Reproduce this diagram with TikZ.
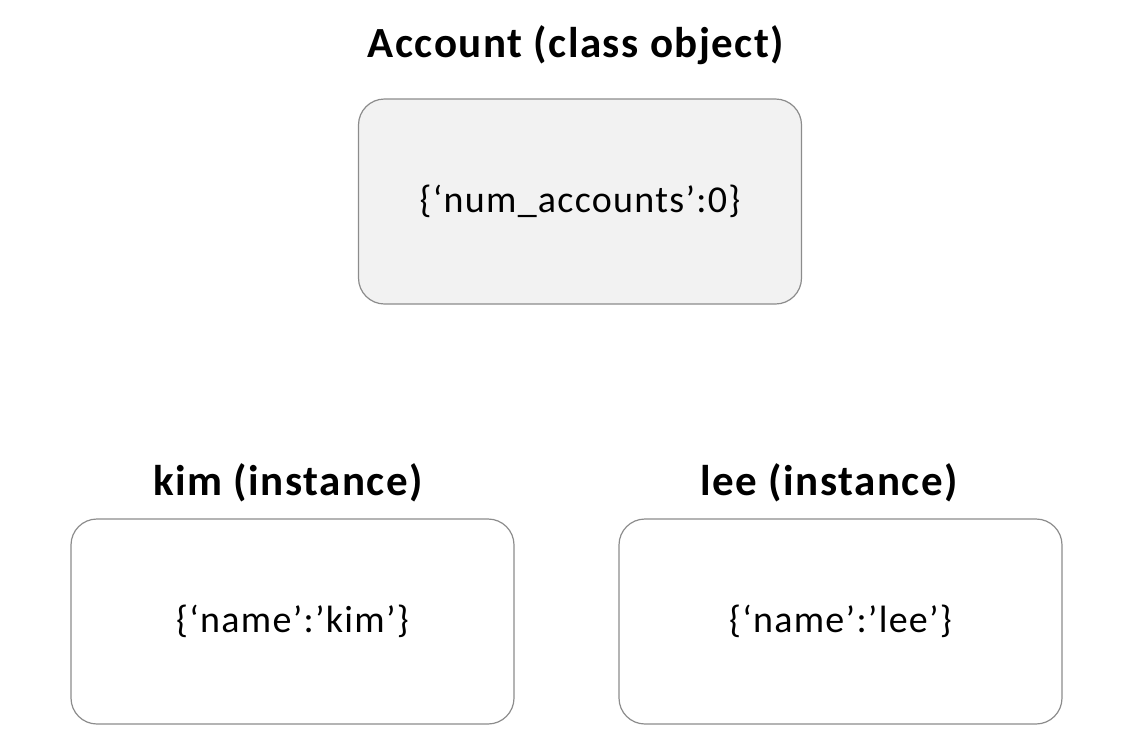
\documentclass[tikz,border=0pt]{standalone}
\usepackage{fontspec}
\setmainfont{Carlito}
\begin{document}
\begin{tikzpicture}[x=1pt,y=-1pt,
  box/.style={draw=black!45, line width=1.2pt, rounded corners=26pt, minimum width=443pt, minimum height=205pt, inner sep=0pt},
  title/.style={font=\fontsize{43}{48}\selectfont\bfseries\addfontfeatures{LetterSpace=3.5}, inner sep=0pt},
  body/.style={font=\fontsize{38}{44}\selectfont\addfontfeatures{LetterSpace=3.4}, inner sep=0pt}]
\useasboundingbox (0,0) rectangle (1146,748);
\node[box, fill=black!5] (acc) at (580,201.5) {};
\node[box] (kim) at (292.5,621.5) {};
\node[box] (lee) at (840.5,621.5) {};
\node[title] (acct) at (576,45) {Account (class object)};
\node[title] (kimt) at (288,483) {kim (instance)};
\node[title] (leet) at (829,483) {lee (instance)};
\node[body] (accb) at (acc.center) {\{‘num\_accounts’:0\}};
\node[body] (kimb) at (kim.center) {\{‘name’:’kim’\}};
\node[body] (leeb) at (lee.center) {\{‘name’:’lee’\}};
\end{tikzpicture}
\end{document}
